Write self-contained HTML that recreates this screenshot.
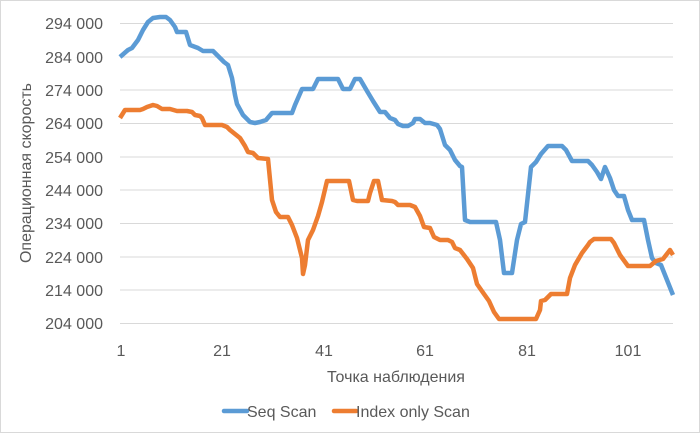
<!DOCTYPE html><html><head><meta charset="utf-8"><style>body{margin:0;background:#fff}svg{display:block;font-family:"Liberation Sans",sans-serif}</style></head><body>
<svg width="700" height="433" xmlns="http://www.w3.org/2000/svg">
<rect x="0.5" y="0.5" width="699" height="432" fill="#fff" stroke="#d9d9d9"/>
<g stroke="#d9d9d9" stroke-width="1">
<line x1="120" x2="673" y1="23.5" y2="23.5"/><line x1="120" x2="673" y1="57" y2="57"/><line x1="120" x2="673" y1="90" y2="90"/><line x1="120" x2="673" y1="123.5" y2="123.5"/><line x1="120" x2="673" y1="157" y2="157"/><line x1="120" x2="673" y1="190" y2="190"/><line x1="120" x2="673" y1="223.5" y2="223.5"/><line x1="120" x2="673" y1="257" y2="257"/><line x1="120" x2="673" y1="290" y2="290"/><line x1="120" x2="673" y1="323.5" y2="323.5"/>
</g>
<g fill="#595959" font-size="16" text-anchor="end">
<text x="103" y="29">294 000</text><text x="103" y="63">284 000</text><text x="103" y="96">274 000</text><text x="103" y="129">264 000</text><text x="103" y="163">254 000</text><text x="103" y="196">244 000</text><text x="103" y="229">234 000</text><text x="103" y="263">224 000</text><text x="103" y="296">214 000</text><text x="103" y="329">204 000</text>
</g>
<g fill="#595959" font-size="16" text-anchor="middle">
<text x="121" y="356">1</text><text x="222" y="356">21</text><text x="324" y="356">41</text><text x="425" y="356">61</text><text x="527" y="356">81</text><text x="628" y="356">101</text>
<text x="396" y="382">Точка наблюдения</text>
<text transform="translate(31,173) rotate(-90)">Операционная скорость</text>
</g>
<polyline fill="none" stroke="#5b9bd5" stroke-width="4.5" stroke-linejoin="round" points="120,57 128,50 132,48 138,40 143,30 148,22 153,18 160,17 166,17 170,20 175,27 177,32 186,32 190,45 198,48 203,51 213,51 218,56 224,62 228,65 232,78 235,95 237,104 243,115 250,122 255,123 260,122 266,120 272,113 292,113 295,105 302,89 313,89 318,79 338,79 343,89 350,89 355,79 360,79 367,91 373,101 380,112 385,112 390,118 395,120 398,124 403,126 408,126 413,123 415,119 420,119 425,123 430,123 437,125 440,129 445,145 450,150 455,160 460,166 462,167 465,220 470,222 496,222 500,240 504,273 512,273 517,240 521,224 525,222 531,167 536,162 541,154 548,146 562,146 566,150 572,161 588,161 592,165 597,172 601,179 605,167 610,178 614,190 618,196 624,196 628,210 632,220 644,220 648,240 652,258 656,263 661,265 665,275 669,285 673,295"/>
<polyline fill="none" stroke="#ed7d31" stroke-width="4.5" stroke-linejoin="round" points="120,118 125,110 140,110 143,109 147,107 153,105 157,106 162,109 170,109 177,111 187,111 192,112 195,115 200,116 202,118 205,125 222,125 227,127 230,130 235,134 240,138 245,146 248,152 253,153 258,158 268,159 272,200 276,212 280,217 288,217 292,225 297,238 302,258 303,274 305,265 308,240 313,230 318,216 322,202 327,181 349,181 353,200 357,201 368,201 370,193 374,181 378,181 382,200 392,201 395,202 398,205 410,205 415,207 420,216 424,227 430,228 434,237 440,240 448,240 452,242 455,248 460,250 467,259 473,268 477,284 484,294 489,301 494,312 499,319 536,319 540,310 541,301 545,300 549,296 551,294 567,294 570,278 575,265 582,253 588,245 590,242 594,239 611,239 614,243 620,255 628,266 650,266 656,261 663,259 670,250 673,255"/>
<line x1="224" x2="247" y1="411" y2="411" stroke="#5b9bd5" stroke-width="4.5" stroke-linecap="round"/>
<text x="247" y="417" font-size="16" fill="#595959">Seq Scan</text>
<line x1="334" x2="356" y1="411" y2="411" stroke="#ed7d31" stroke-width="4.5" stroke-linecap="round"/>
<text x="356" y="417" font-size="16" fill="#595959">Index only Scan</text>
</svg></body></html>
